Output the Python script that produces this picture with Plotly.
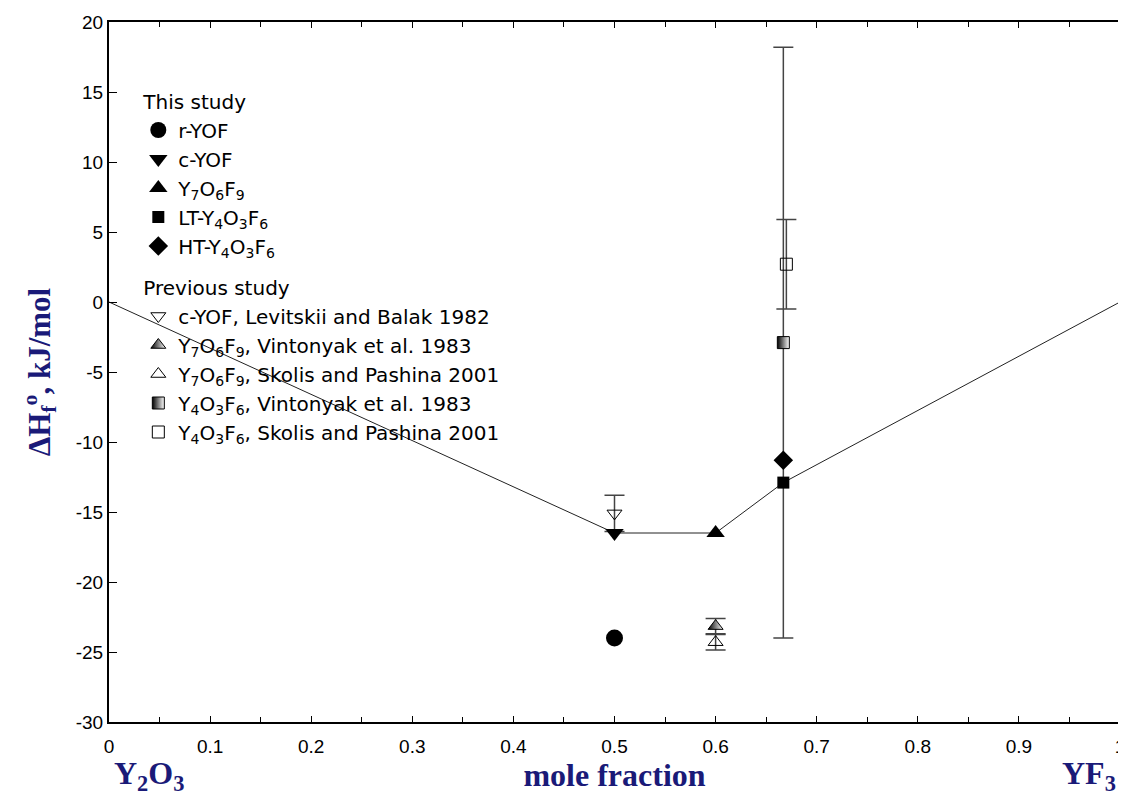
import plotly.graph_objects as go

# ---- data ----
boundary_x = [0, 0.5, 0.6, 0.667, 1]
boundary_y = [0, -16.5, -16.5, -12.9, 0]

this_names = ["r-YOF", "c-YOF", "Y<sub>7</sub>O<sub>6</sub>F<sub>9</sub>",
              "LT-Y<sub>4</sub>O<sub>3</sub>F<sub>6</sub>", "HT-Y<sub>4</sub>O<sub>3</sub>F<sub>6</sub>"]
this_x = [0.5, 0.5, 0.6, 0.667, 0.667]
this_y = [-24.0, -16.5, -16.5, -12.9, -11.3]

prev_names = ["c-YOF, Levitskii and Balak 1982",
              "Y<sub>7</sub>O<sub>6</sub>F<sub>9</sub>, Vintonyak et al. 1983",
              "Y<sub>7</sub>O<sub>6</sub>F<sub>9</sub>, Skolis and Pashina 2001",
              "Y<sub>4</sub>O<sub>3</sub>F<sub>6</sub>, Vintonyak et al. 1983",
              "Y<sub>4</sub>O<sub>3</sub>F<sub>6</sub>, Skolis and Pashina 2001"]
prev_x = [0.5, 0.6, 0.6, 0.667, 0.67]
prev_y = [-15.1, -23.15, -24.3, -2.9, 2.7]
prev_err = [1.3, 0.55, 0.55, 21.1, 3.2]

x_ticks = [0, 0.1, 0.2, 0.3, 0.4, 0.5, 0.6, 0.7, 0.8, 0.9, 1]
x_tick_labels = ["0", "0.1", "0.2", "0.3", "0.4", "0.5", "0.6", "0.7", "0.8", "0.9", "1"]
y_ticks = [20, 15, 10, 5, 0, -5, -10, -15, -20, -25, -30]
y_tick_labels = ["20", "15", "10", "5", "0", "-5", "-10", "-15", "-20", "-25", "-30"]

# ---- styles ----
this_sym = ["circle", "triangle-down", "triangle-up", "square", "diamond"]
this_size = [17, 16, 16, 12, 15]
prev_sym = ["triangle-down-open", "triangle-up", "triangle-up-open", "square", "square-open"]
prev_size = [13, 13, 13, 12, 12]
prev_grad = [None, True, None, True, None]

fig = go.Figure()

fig.add_trace(go.Scatter(x=boundary_x, y=boundary_y, mode="lines",
                         line=dict(color="#222", width=1), showlegend=False, hoverinfo="skip"))

for i, n in enumerate(prev_names):
    marker = dict(symbol=prev_sym[i], size=prev_size[i], color="black",
                  line=dict(color="black", width=1))
    if prev_grad[i]:
        marker["gradient"] = dict(type="horizontal", color="white")
    fig.add_trace(go.Scatter(
        x=[prev_x[i]], y=[prev_y[i]], mode="markers", name=n,
        marker=marker,
        error_y=dict(type="data", array=[prev_err[i]], symmetric=True,
                     color="#444", thickness=1.5, width=10),
        legendgroup="prev", legendgrouptitle=dict(text="Previous study"),
        legendrank=2))

for i, n in enumerate(this_names):
    fig.add_trace(go.Scatter(
        x=[this_x[i]], y=[this_y[i]], mode="markers", name=n,
        marker=dict(symbol=this_sym[i], size=this_size[i], color="black"),
        legendgroup="this", legendgrouptitle=dict(text="This study"),
        legendrank=1))

navy = "#1a1a78"
fig.update_layout(
    width=1118, height=788,
    margin=dict(l=101, r=6, t=14, b=74),
    paper_bgcolor="white", plot_bgcolor="white",
    font=dict(family="Liberation Sans, Arial", size=18, color="black"),
    legend=dict(x=0.029, y=0.915, xanchor="left", yanchor="top",
                bgcolor="rgba(0,0,0,0)",
                font=dict(family="DejaVu Sans", size=20),
                grouptitlefont=dict(family="DejaVu Sans", size=20),
                tracegroupgap=12, traceorder="grouped", itemwidth=30),
    showlegend=True,
)
fig.update_xaxes(range=[0, 1], tickvals=x_ticks, ticktext=x_tick_labels,
                 ticks="inside", ticklen=6, tickcolor="black",
                 minor=dict(dtick=0.05, tick0=0, ticks="inside", ticklen=5, tickcolor="black"),
                 showline=True, linecolor="black", linewidth=2, mirror="ticks",
                 showgrid=False, zeroline=False, automargin=False,
                 tickfont=dict(size=19), ticklabelstandoff=6,
                 title=dict(text="<b>mole fraction</b>", standoff=6,
                            font=dict(family="Liberation Serif", size=32, color=navy)))
fig.update_yaxes(range=[-30, 20], tickvals=y_ticks, ticktext=y_tick_labels,
                 ticks="inside", ticklen=8, tickcolor="black",
                 showline=True, linecolor="black", linewidth=2, mirror=True,
                 showgrid=False, zeroline=False, automargin=False,
                 tickfont=dict(size=19), ticklabelstandoff=0,
                 title=dict(text="<b>ΔH<sub>f</sub><sup>o</sup>, kJ/mol</b>", standoff=16,
                            font=dict(family="Liberation Serif", size=31, color=navy)))

fig.add_annotation(x=0.003, y=-0.077, xref="paper", yref="paper", xanchor="left", yanchor="middle",
                   text="<b>Y<sub>2</sub>O<sub>3</sub></b>", showarrow=False,
                   font=dict(family="Liberation Serif", size=32, color=navy))
fig.add_annotation(x=0.998, y=-0.077, xref="paper", yref="paper", xanchor="right", yanchor="middle",
                   text="<b>YF<sub>3</sub></b>", showarrow=False,
                   font=dict(family="Liberation Serif", size=32, color=navy))

fig.write_html("out.html")
